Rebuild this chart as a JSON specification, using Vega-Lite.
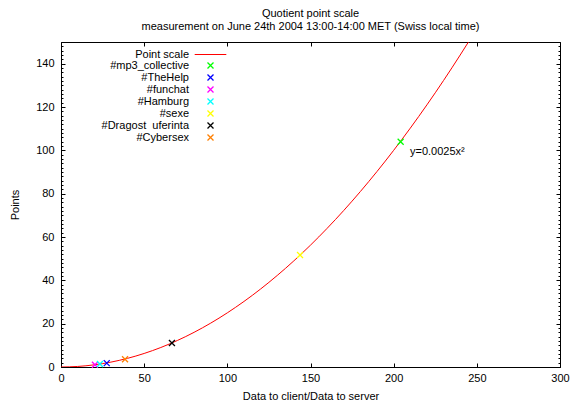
{
  "$schema": "https://vega.github.io/schema/vega-lite/v6.json",
  "autosize": {"type": "none"},
  "padding": {"left": 61, "top": 42, "right": 11, "bottom": 36},
  "width": 499,
  "height": 325,
  "background": "white",
  "title": {
    "text": "Quotient point scale",
    "subtitle": "measurement on June 24th 2004 13:00-14:00 MET (Swiss local time)",
    "anchor": "middle",
    "offset": 10,
    "font": "Liberation Sans",
    "fontSize": 11,
    "fontWeight": "normal",
    "color": "black",
    "subtitleFont": "Liberation Sans",
    "subtitleFontSize": 11,
    "subtitleColor": "black",
    "subtitlePadding": 2
  },
  "config": {
    "font": "Liberation Sans",
    "view": {"stroke": "black", "strokeWidth": 1},
    "axis": {
      "grid": false,
      "domain": false,
      "labelFlush": false,
      "labelOverlap": false,
      "tickColor": "black",
      "tickSize": -4,
      "labelColor": "black",
      "labelFont": "Liberation Sans",
      "labelFontSize": 11,
      "titleFont": "Liberation Sans",
      "titleFontSize": 11,
      "titleFontWeight": "normal",
      "titleColor": "black"
    },
    "legend": {
      "labelFont": "Liberation Sans",
      "labelFontSize": 11,
      "labelColor": "black"
    }
  },
  "datasets": {
    "curve": [
      {"x": 0, "y": 0, "series": "Point scale"},
      {"x": 10, "y": 0.25, "series": "Point scale"},
      {"x": 20, "y": 1, "series": "Point scale"},
      {"x": 30, "y": 2.25, "series": "Point scale"},
      {"x": 40, "y": 4, "series": "Point scale"},
      {"x": 50, "y": 6.25, "series": "Point scale"},
      {"x": 60, "y": 9, "series": "Point scale"},
      {"x": 70, "y": 12.25, "series": "Point scale"},
      {"x": 80, "y": 16, "series": "Point scale"},
      {"x": 90, "y": 20.25, "series": "Point scale"},
      {"x": 100, "y": 25, "series": "Point scale"},
      {"x": 110, "y": 30.25, "series": "Point scale"},
      {"x": 120, "y": 36, "series": "Point scale"},
      {"x": 130, "y": 42.25, "series": "Point scale"},
      {"x": 140, "y": 49, "series": "Point scale"},
      {"x": 150, "y": 56.25, "series": "Point scale"},
      {"x": 160, "y": 64, "series": "Point scale"},
      {"x": 170, "y": 72.25, "series": "Point scale"},
      {"x": 180, "y": 81, "series": "Point scale"},
      {"x": 190, "y": 90.25, "series": "Point scale"},
      {"x": 200, "y": 100, "series": "Point scale"},
      {"x": 210, "y": 110.25, "series": "Point scale"},
      {"x": 220, "y": 121, "series": "Point scale"},
      {"x": 230, "y": 132.25, "series": "Point scale"},
      {"x": 240, "y": 144, "series": "Point scale"},
      {"x": 245, "y": 150.06, "series": "Point scale"}
    ],
    "points": [
      {"x": 204.2, "y": 104.0, "series": "#mp3_collective"},
      {"x": 27.5, "y": 1.8, "series": "#TheHelp"},
      {"x": 20.4, "y": 1.05, "series": "#funchat"},
      {"x": 23.4, "y": 1.4, "series": "#Hamburg"},
      {"x": 143.7, "y": 51.7, "series": "#sexe"},
      {"x": 66.7, "y": 11.1, "series": "#Dragost\u00a0\u00a0uferinta"},
      {"x": 38.5, "y": 3.6, "series": "#Cybersex"}
    ],
    "label": [
      {"x": 209.8, "y": 98, "text": "y=0.0025x²"}
    ]
  },
  "resolve": {"scale": {"x": "independent", "y": "independent"}},
  "layer": [
    {
      "layer": [
        {
          "data": {"name": "curve"},
          "mark": {"type": "line", "interpolate": "monotone", "clip": true, "strokeWidth": 1},
          "encoding": {
            "x": {"field": "x", "type": "quantitative", "scale": {"domain": [0, 300], "nice": false}, "axis": {"orient": "bottom", "values": [0, 50, 100, 150, 200, 250, 300], "title": "Data to client/Data to server", "labelPadding": 9.5, "titleY": 23}},
            "y": {"field": "y", "type": "quantitative", "scale": {"domain": [0, 150], "nice": false, "zero": true}, "axis": {"orient": "left", "values": [0, 20, 40, 60, 80, 100, 120, 140], "title": "Points", "labelPadding": 11, "titleX": -41}},
            "color": {"field": "series", "type": "nominal",
              "scale": {
                "domain": ["Point scale", "#mp3_collective", "#TheHelp", "#funchat", "#Hamburg", "#sexe", "#Dragost\u00a0\u00a0uferinta", "#Cybersex"],
                "range": ["#ff0000", "#00ff00", "#0000ff", "#ff00ff", "#00ffff", "#ffff00", "#000000", "#ff7f00"]
              },
              "legend": {"title": null, "orient": "none", "legendX": 144, "legendY": 7, "labelAlign": "right", "labelOffset": -27, "rowPadding": -1, "symbolSize": 36, "symbolStrokeWidth": 1.3, "labelLimit": 300,
                "encode": {"symbols": {"update": {
                  "size": {"signal": "datum.value === 'Point scale' ? 1000 : 36"},
                  "shape": {"signal": "datum.value === 'Point scale' ? 'stroke' : 'M-1,-1L1,1M-1,1L1,-1'"},
                  "fill": {"value": "transparent"},
                  "stroke": {"scale": "color", "field": "value"},
                  "strokeWidth": {"signal": "datum.value === 'Point scale' ? 1 : 1.3"},
                  "opacity": {"value": 1}
                }}}}
            }
          }
        },
        {
          "data": {"name": "points"},
          "mark": {"type": "point", "filled": false, "size": 36, "strokeWidth": 1.3, "opacity": 1, "shape": "M-1,-1L1,1M-1,1L1,-1"},
          "encoding": {
            "x": {"field": "x", "type": "quantitative"},
            "y": {"field": "y", "type": "quantitative"},
            "color": {"field": "series", "type": "nominal"}
          }
        }
      ]
    },
    {
      "data": {"name": "label"},
      "mark": {"type": "text", "align": "left", "baseline": "alphabetic", "fontSize": 11, "font": "Liberation Sans", "color": "black"},
      "encoding": {
        "x": {"field": "x", "type": "quantitative", "scale": {"domain": [0, 300], "nice": false}, "axis": {"orient": "top", "values": [0, 50, 100, 150, 200, 250, 300], "labels": false, "title": null}},
        "y": {"field": "y", "type": "quantitative", "scale": {"domain": [0, 150], "nice": false, "zero": true}, "axis": {"orient": "right", "values": [0, 20, 40, 60, 80, 100, 120, 140], "labels": false, "title": null}},
        "text": {"field": "text"}
      }
    },
    {
      "data": {"name": "label"},
      "mark": {"type": "text", "opacity": 0},
      "encoding": {
        "x": {"field": "x", "type": "quantitative", "scale": {"domain": [0, 300], "nice": false}, "axis": null},
        "y": {"field": "y", "type": "quantitative", "scale": {"domain": [0, 150], "nice": false, "zero": true}, "axis": {"orient": "left", "values": [0,2,4,6,8,10,12,14,16,18,20,22,24,26,28,30,32,34,36,38,40,42,44,46,48,50,52,54,56,58,60,62,64,66,68,70,72,74,76,78,80,82,84,86,88,90,92,94,96,98,100,102,104,106,108,110,112,114,116,118,120,122,124,126,128,130,132,134,136,138,140,142,144,146,148,150], "labels": false, "title": null, "tickSize": -2}},
        "text": {"field": "text"}
      }
    },
    {
      "data": {"name": "label"},
      "mark": {"type": "text", "opacity": 0},
      "encoding": {
        "x": {"field": "x", "type": "quantitative", "scale": {"domain": [0, 300], "nice": false}, "axis": null},
        "y": {"field": "y", "type": "quantitative", "scale": {"domain": [0, 150], "nice": false, "zero": true}, "axis": {"orient": "right", "values": [0,2,4,6,8,10,12,14,16,18,20,22,24,26,28,30,32,34,36,38,40,42,44,46,48,50,52,54,56,58,60,62,64,66,68,70,72,74,76,78,80,82,84,86,88,90,92,94,96,98,100,102,104,106,108,110,112,114,116,118,120,122,124,126,128,130,132,134,136,138,140,142,144,146,148,150], "labels": false, "title": null, "tickSize": -2}},
        "text": {"field": "text"}
      }
    }
  ]
}
